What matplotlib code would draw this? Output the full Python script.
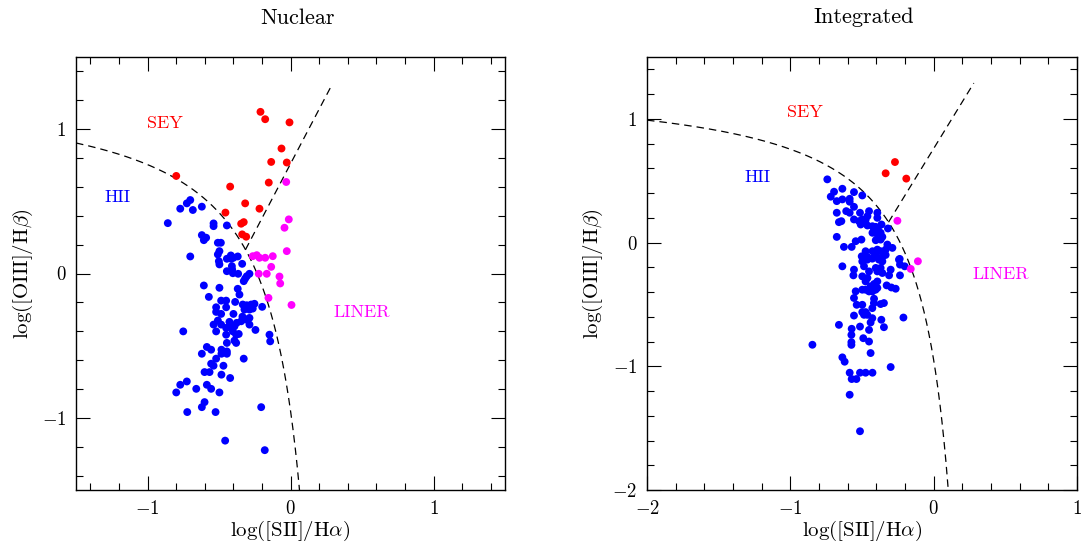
import numpy as np
import matplotlib
matplotlib.use('Agg')
import matplotlib.pyplot as plt
from matplotlib.ticker import MultipleLocator

plt.rcParams['font.family'] = 'cmr10'
plt.rcParams['mathtext.fontset'] = 'cm'
plt.rcParams['axes.formatter.use_mathtext'] = True

# ---- Nuclear panel data: log([SII]/Ha), log([OIII]/Hb) ----
nuc_sey_x = [-0.210, -0.177, -0.007, -0.063, -0.135, -0.026, -0.799, -0.422,
             -0.152, -0.317, -0.217, -0.455, -0.345, -0.327, -0.338, -0.310]
nuc_sey_y = [1.120, 1.069, 1.047, 0.866, 0.773, 0.769, 0.676, 0.602,
             0.630, 0.486, 0.449, 0.422, 0.345, 0.356, 0.271, 0.255]

nuc_liner_x = [-0.030, -0.012, -0.042, -0.026, -0.264, -0.236, -0.217, -0.177,
               -0.124, -0.135, -0.222, -0.166, -0.077, -0.072, -0.154, 0.007]
nuc_liner_y = [0.634, 0.375, 0.317, 0.155, 0.120, 0.127, 0.109, 0.109,
               0.120, 0.046, -0.002, -0.002, -0.021, -0.069, -0.169, -0.218]

nuc_hii_x = [-0.701, -0.725, -0.771, -0.683, -0.620, -0.858, -0.538, -0.538, -0.445, -0.620,
             -0.590, -0.606, -0.508, -0.487, -0.497, -0.508, -0.701, -0.417, -0.369, -0.445,
             -0.415, -0.399, -0.501, -0.497, -0.338, -0.410, -0.408, -0.445, -0.403, -0.366,
             -0.287, -0.306, -0.317, -0.327, -0.606, -0.497, -0.369, -0.357, -0.571, -0.485,
             -0.450, -0.387, -0.520, -0.520, -0.450, -0.334, -0.306, -0.275, -0.252, -0.322,
             -0.287, -0.264, -0.198, -0.485, -0.399, -0.345, -0.310, -0.287, -0.336, -0.508,
             -0.538, -0.485, -0.427, -0.376, -0.287, -0.450, -0.415, -0.392, -0.520, -0.450,
             -0.403, -0.380, -0.362, -0.245, -0.750, -0.147, -0.445, -0.392, -0.380, -0.142,
             -0.585, -0.555, -0.483, -0.445, -0.483, -0.445, -0.620, -0.520, -0.327, -0.555,
             -0.538, -0.469, -0.601, -0.566, -0.483, -0.422, -0.725, -0.771, -0.585, -0.659,
             -0.555, -0.799, -0.497, -0.601, -0.620, -0.722, -0.524, -0.205, -0.457, -0.180]
nuc_hii_y = [0.509, 0.486, 0.449, 0.440, 0.463, 0.349, 0.347, 0.328, 0.333, 0.266,
             0.248, 0.231, 0.213, 0.213, 0.155, 0.132, 0.118, 0.125, 0.118, 0.102,
             0.102, 0.109, 0.085, 0.063, 0.067, 0.051, 0.028, 0.016, 0.002, -0.002,
             -0.002, -0.019, -0.035, -0.053, -0.083, -0.099, -0.106, -0.146, -0.162, -0.188,
             -0.188, -0.197, -0.234, -0.266, -0.234, -0.215, -0.220, -0.215, -0.210, -0.250,
             -0.250, -0.243, -0.231, -0.280, -0.280, -0.331, -0.319, -0.308, -0.299, -0.326,
             -0.354, -0.354, -0.335, -0.342, -0.354, -0.377, -0.377, -0.366, -0.401, -0.424,
             -0.401, -0.424, -0.419, -0.391, -0.401, -0.424, -0.481, -0.465, -0.481, -0.470,
             -0.509, -0.528, -0.528, -0.540, -0.556, -0.556, -0.556, -0.590, -0.590, -0.625,
             -0.639, -0.639, -0.683, -0.683, -0.701, -0.724, -0.748, -0.771, -0.771, -0.799,
             -0.799, -0.824, -0.824, -0.891, -0.926, -0.960, -0.960, -0.926, -1.158, -1.224]

# ---- Integrated panel data ----
int_sey_x = [-0.270, -0.335, -0.191]
int_sey_y = [0.651, 0.560, 0.517]

int_liner_x = [-0.253, -0.110, -0.160]
int_liner_y = [0.176, -0.151, -0.213]

int_hii_x = [-0.742, -0.695, -0.637, -0.718, -0.676, -0.637, -0.586, -0.586, -0.556, -0.498,
             -0.556, -0.676, -0.610, -0.586, -0.514, -0.451, -0.462, -0.393, -0.393, -0.644,
             -0.661, -0.556, -0.521, -0.498, -0.475, -0.509, -0.462, -0.427, -0.404, -0.416,
             -0.388, -0.364, -0.319, -0.427, -0.398, -0.370, -0.676, -0.544, -0.504, -0.404,
             -0.370, -0.358, -0.323, -0.288, -0.626, -0.572, -0.475, -0.427, -0.393, -0.370,
             -0.335, -0.502, -0.463, -0.405, -0.358, -0.335, -0.237,
             -0.637, -0.556, -0.560, -0.498, -0.462, -0.451, -0.404, -0.370, -0.393, -0.358,
             -0.300, -0.311, -0.235, -0.242, -0.235, -0.202, -0.498, -0.463, -0.428, -0.382,
             -0.358, -0.486, -0.475, -0.440, -0.416, -0.393, -0.393, -0.498, -0.475, -0.451,
             -0.428, -0.405, -0.544, -0.328, -0.295, -0.265, -0.556, -0.416, -0.417, -0.370,
             -0.347, -0.537, -0.498, -0.428, -0.498, -0.475, -0.463, -0.486, -0.556, -0.428,
             -0.365, -0.211, -0.661, -0.514, -0.440, -0.347, -0.572, -0.574, -0.574, -0.574,
             -0.451, -0.491, -0.451, -0.846,
             -0.440, -0.637, -0.621, -0.300, -0.586, -0.514, -0.475, -0.427, -0.572, -0.539,
             -0.586, -0.514]
int_hii_y = [0.511, 0.411, 0.435, 0.371, 0.335, 0.349, 0.354, 0.330, 0.408, 0.381,
             0.289, 0.241, 0.254, 0.241, 0.241, 0.254, 0.213, 0.241, 0.200, 0.173,
             0.165, 0.187, 0.173, 0.187, 0.181, 0.146, 0.138, 0.132, 0.127, 0.105,
             0.105, 0.146, 0.114, 0.079, 0.073, 0.079, 0.046, 0.011, 0.024, 0.019,
             0.024, 0.046, -0.016, -0.043, -0.035, -0.035, -0.070, -0.070, -0.057, -0.070,
             -0.057, -0.111, -0.116, -0.105, -0.116, -0.100, -0.132,
             -0.192, -0.219, -0.265, -0.273, -0.286, -0.233, -0.205, -0.205, -0.233, -0.246,
             -0.219, -0.265, -0.265, -0.138, -0.178, -0.192, -0.152, -0.138, -0.130, -0.138,
             -0.152, -0.192, -0.314, -0.354, -0.335, -0.314, -0.367, -0.381, -0.381, -0.395,
             -0.395, -0.381, -0.394, -0.346, -0.363, -0.373, -0.448, -0.454, -0.489, -0.497,
             -0.489, -0.503, -0.503, -0.530, -0.562, -0.562, -0.584, -0.584, -0.590, -0.611,
             -0.624, -0.606, -0.665, -0.679, -0.646, -0.684, -0.697, -0.746, -0.805, -0.827,
             -0.706, -0.773, -0.800, -0.826,
             -0.893, -0.928, -0.963, -1.006, -1.052, -1.052, -1.052, -1.052, -1.103, -1.103,
             -1.230, -1.525]

# demarcation lines (Kewley et al.)
def kewley_curve(x):
    return 0.72 / (x - 0.32) + 1.30

def sey_liner_line(x):
    return 1.89 * x + 0.76


def draw_panel(ax, xlim, ylim, sey, liner, hii, label_pos):
    xc = np.linspace(xlim[0], 0.315, 800)
    ax.plot(xc, kewley_curve(xc), color='black', lw=0.9, ls=(0, (6, 4)))
    xl = np.linspace(-0.315, 0.28, 50)
    ax.plot(xl, sey_liner_line(xl), color='black', lw=0.9, ls=(0, (6, 4)))

    ax.scatter(hii[0], hii[1], s=32, color='#0000ff', edgecolors='none', zorder=3)
    ax.scatter(sey[0], sey[1], s=32, color='#ff0000', edgecolors='none', zorder=3)
    ax.scatter(liner[0], liner[1], s=32, color='#ff00ff', edgecolors='none', zorder=3)

    ax.text(*label_pos['SEY'], 'SEY', color='#ff0000', fontsize=13, ha='center', va='center')
    ax.text(*label_pos['HII'], 'HII', color='#0000ff', fontsize=13, ha='center', va='center')
    ax.text(*label_pos['LINER'], 'LINER', color='#ff00ff', fontsize=13, ha='center', va='center')

    ax.set_xlim(*xlim)
    ax.set_ylim(*ylim)
    ax.xaxis.set_major_locator(MultipleLocator(1))
    ax.xaxis.set_minor_locator(MultipleLocator(0.2))
    ax.yaxis.set_major_locator(MultipleLocator(1))
    ax.yaxis.set_minor_locator(MultipleLocator(0.2))
    ax.tick_params(which='both', direction='in', top=True, right=True, width=0.8)
    ax.tick_params(which='major', length=10, labelsize=13.5, pad=7)
    ax.tick_params(which='minor', length=5)
    for sp in ax.spines.values():
        sp.set_linewidth(1.0)
    ax.set_xlabel(r'log([SII]/H$\alpha$)', fontsize=15, labelpad=1)
    ax.set_ylabel(r'log([OIII]/H$\beta$)', fontsize=15, labelpad=5)


fig = plt.figure(figsize=(10.82, 5.47), dpi=100)
ax1 = fig.add_axes([76 / 1082, 57 / 547, 429 / 1082, 433 / 547])
ax2 = fig.add_axes([647 / 1082, 57 / 547, 430 / 1082, 433 / 547])

draw_panel(ax1, (-1.5, 1.5), (-1.5, 1.5),
           (nuc_sey_x, nuc_sey_y), (nuc_liner_x, nuc_liner_y), (nuc_hii_x, nuc_hii_y),
           {'SEY': (-0.88, 1.04), 'HII': (-1.21, 0.53), 'LINER': (0.50, -0.27)})
draw_panel(ax2, (-2, 1), (-2, 1.5),
           (int_sey_x, int_sey_y), (int_liner_x, int_liner_y), (int_hii_x, int_hii_y),
           {'SEY': (-0.90, 1.05), 'HII': (-1.23, 0.53), 'LINER': (0.47, -0.26)})

fig.text(298 / 1082, 1 - 18 / 547, 'Nuclear', fontsize=16, ha='center', va='center')
fig.text(864 / 1082, 1 - 17 / 547, 'Integrated', fontsize=16, ha='center', va='center')

fig.savefig('out.png', dpi=100)
